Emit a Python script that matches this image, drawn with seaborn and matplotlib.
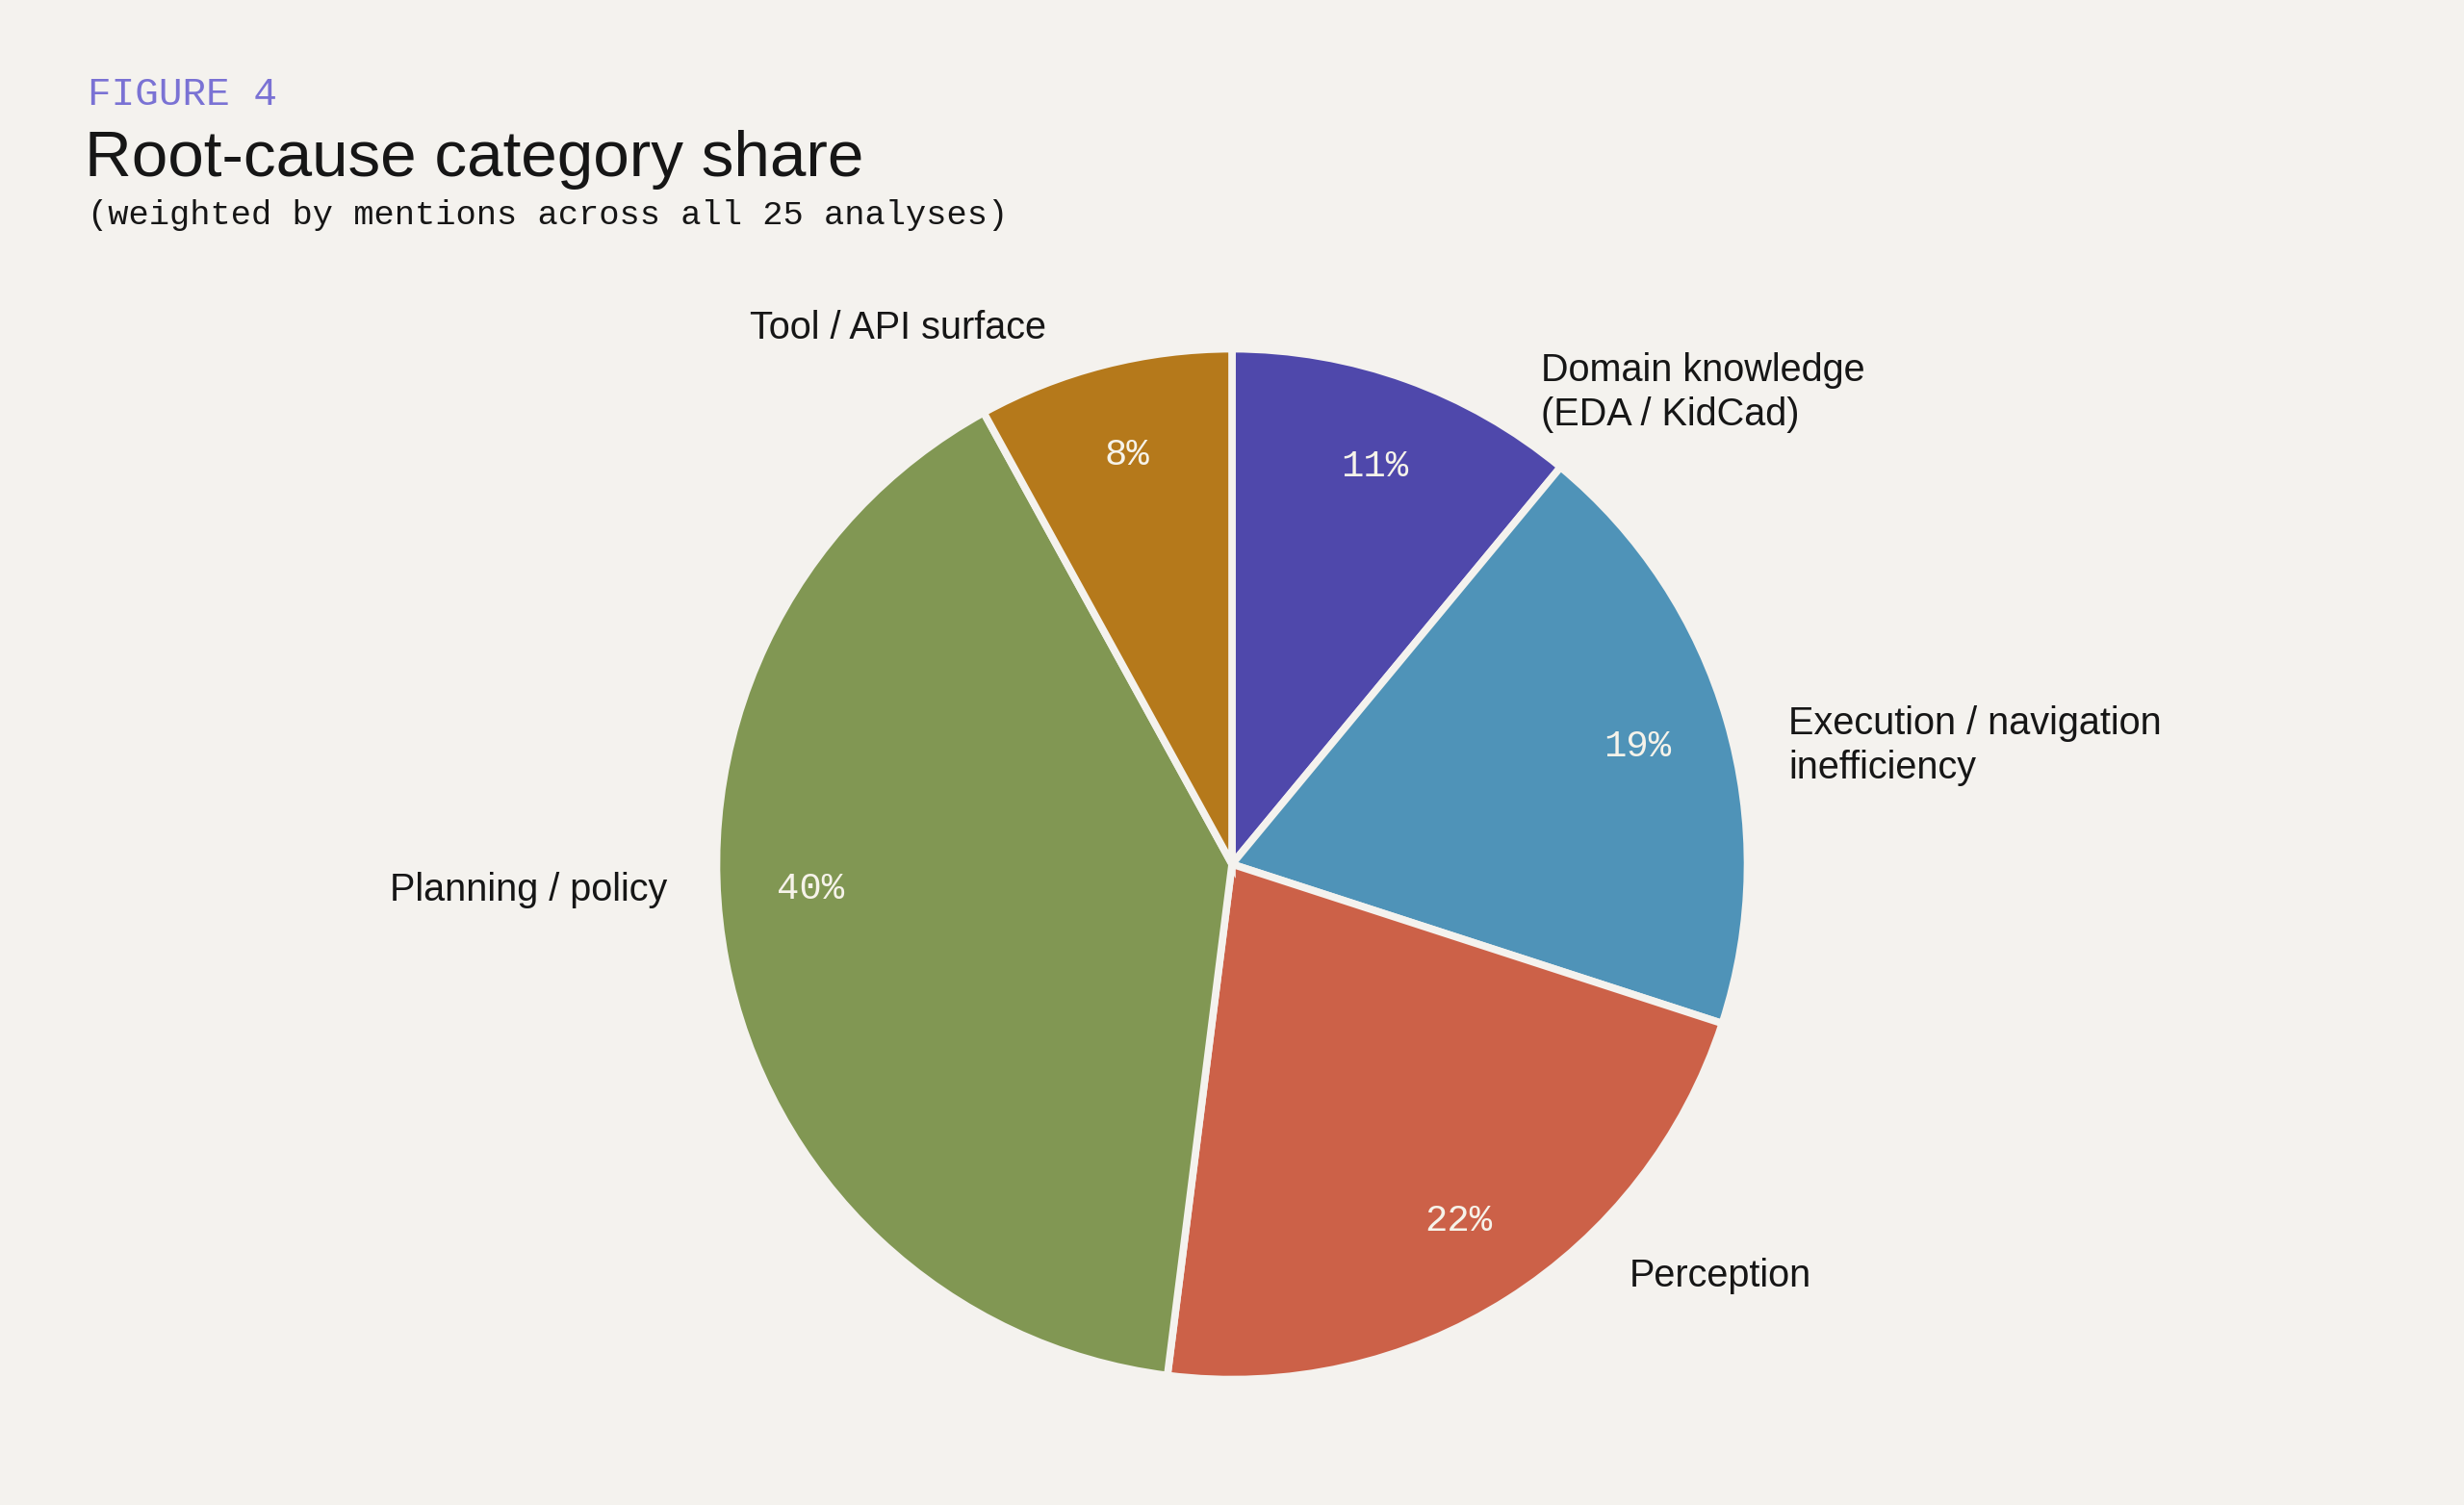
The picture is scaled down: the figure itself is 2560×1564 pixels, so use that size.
import numpy as np
import matplotlib
matplotlib.use("Agg")
import matplotlib.pyplot as plt
import seaborn as sns

# ---------------- data ----------------
categories = ["Domain knowledge\n(EDA / KidCad)", "Execution / navigation\ninefficiency",
              "Perception", "Planning / policy", "Tool / API surface"]
shares = [11, 19, 22, 40, 8]
slice_colors = ["#4f48ab", "#4f93b8", "#cc6148", "#819753", "#b5791b"]

# label anchors (radius units) and alignment, tuned to the reference layout
label_pos = [(0.60, 0.915, "left"), (1.08, 0.23, "left"), (0.77, -0.80, "left"),
             (-1.095, -0.05, "right"), (-0.36, 1.04, "right")]

bg = "#f4f2ee"
ink = "#161616"

sns.set_theme(style="white")
plt.rcParams["font.family"] = ["Liberation Sans", "DejaVu Sans"]

fig = plt.figure(figsize=(25.6, 15.64), dpi=100, facecolor=bg)
ax = fig.add_axes([0.2908, 0.0834, 0.4184, 0.6848])
ax.set_facecolor(bg)

palette = sns.color_palette(slice_colors)
wedges, texts, autotexts = ax.pie(
    shares, labels=categories, colors=palette, startangle=90, counterclock=False,
    autopct=lambda p: f"{p:.0f}%", pctdistance=0.82, labeldistance=1.1,
    wedgeprops=dict(edgecolor=bg, linewidth=5.5),
    textprops=dict(color=ink, fontsize=28.5))
ax.set_xlim(-1, 1)
ax.set_ylim(-1, 1)
ax.set_aspect("equal")

for t, (x, y, ha) in zip(texts, label_pos):
    t.set_position((x, y))
    t.set_ha(ha)
    t.set_va("center")
    t.set_linespacing(1.25)

for i, t in enumerate(autotexts):
    t.set_color("#f6f3ea")
    t.set_fontsize(28)
    t.set_family(["Liberation Mono", "DejaVu Sans Mono"])
    # large slice: text sits a little above the midpoint in the reference
    if shares[i] == max(shares):
        ang = np.deg2rad(183.4)
        t.set_position((0.82 * np.cos(ang), 0.82 * np.sin(ang)))

fig.text(0.0357, 0.930, "FIGURE 4", color="#7a72d4", fontsize=29.5,
         family=["Liberation Mono", "DejaVu Sans Mono"], va="baseline")
fig.text(0.0345, 0.883, "Root-cause category share", color=ink, fontsize=48.5, va="baseline")
fig.text(0.0357, 0.851, "(weighted by mentions across all 25 analyses)", color=ink,
         fontsize=25.5, family=["Liberation Mono", "DejaVu Sans Mono"], va="baseline")

fig.savefig("out.png", dpi=100, facecolor=bg)
